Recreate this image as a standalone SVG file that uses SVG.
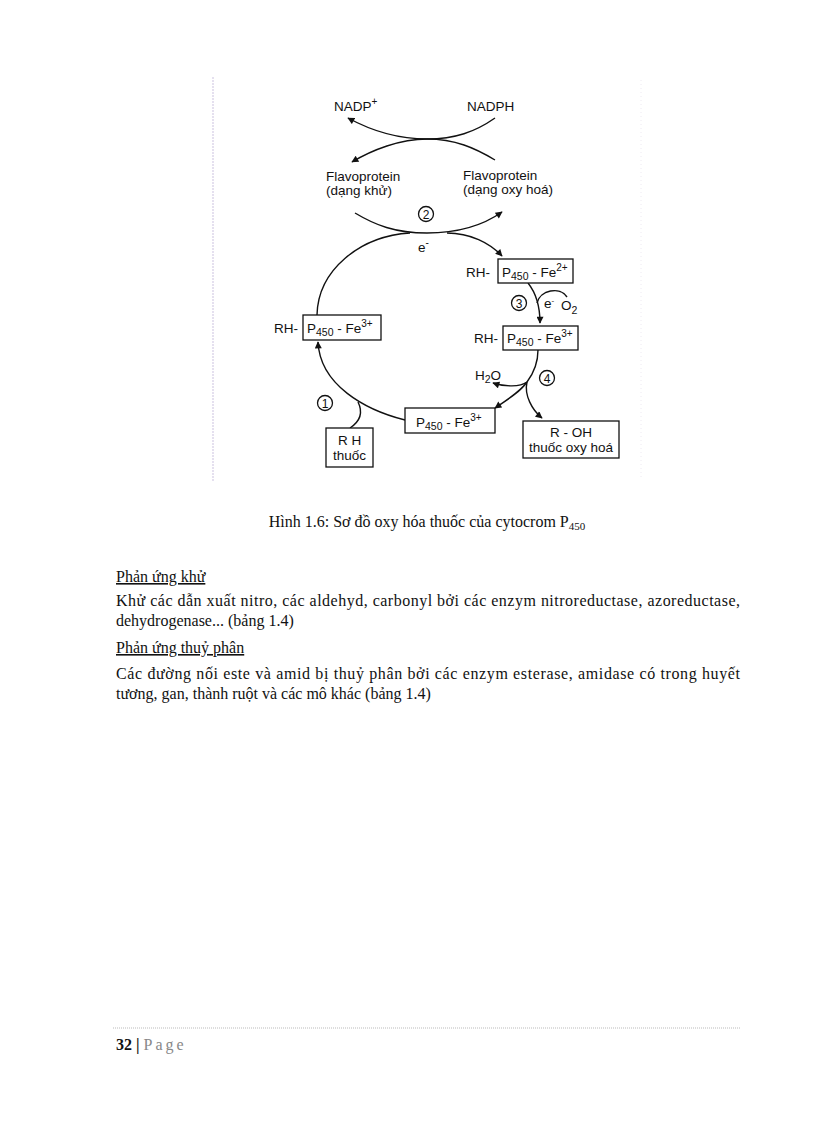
<svg xmlns="http://www.w3.org/2000/svg" width="816" height="1123" viewBox="0 0 816 1123">
<defs>
<marker id="ah" viewBox="0 0 10 10" refX="9" refY="5" markerWidth="8" markerHeight="7" markerUnits="userSpaceOnUse" orient="auto">
<path d="M0,0 L10,5 L0,10 Z" fill="#111"/>
</marker>
<style>
.d{font-family:"Liberation Sans",Arial,sans-serif;font-size:13.5px;fill:#111}
.n{font-family:"Liberation Sans",Arial,sans-serif;font-size:12px;fill:#111;text-anchor:middle}
.box{fill:#fff;stroke:#111;stroke-width:1.3}
.c{fill:none;stroke:#111;stroke-width:1.3}
.ln{fill:none;stroke:#111;stroke-width:1.4}
.ar{fill:none;stroke:#111;stroke-width:1.4;marker-end:url(#ah)}
.t{font-family:"Liberation Serif","Times New Roman",serif;font-size:16px;fill:#111}
</style>
</defs>
<rect width="816" height="1123" fill="#fff"/>
<line x1="213" y1="77" x2="213" y2="481" stroke="#ddd6ea" stroke-width="1.5" stroke-dasharray="2,1"/>
<line x1="641" y1="80" x2="641" y2="478" stroke="#eeeaf2" stroke-width="1" stroke-dasharray="1,3"/>

<g id="connectors">
<path class="ar" d="M495,118 C475,132 455,139 427,139 C395,139 370,130 348,118"/>
<path class="ar" d="M495,160 C475,148 455,139 427,139 C400,139 372,150 352,162"/>
<path class="ar" d="M355,213 C375,225 395,233 427,233 C460,233 485,224 502,212"/>
<path class="ln" d="M410,233 C360,236 318,270 317,315"/>
<path class="ar" d="M447,233 C470,233 490,243 502,256"/>
<path class="ar" d="M528,283 C536,293 540,305 540,323"/>
<path class="ln" d="M537,303 C540,290 560,286 567,297"/>
<path class="ln" d="M538,350 C538,362 533,374 527,382"/>
<path class="ar" d="M527,382 C520,387 505,387 493,383"/>
<path class="ar" d="M527,382 C520,392 507,400 495,408"/>
<path class="ar" d="M527,382 C524,395 532,410 542,418"/>
<path class="ar" d="M405,420 C365,410 320,385 318,342"/>
<path class="ln" d="M350,428 C362,420 362,410 358,402"/>
</g>

<g id="nadp"><text class="d" x="334" y="111">NADP<tspan font-size="10" dy="-6">+</tspan></text></g>
<g id="nadph"><text class="d" x="467" y="111">NADPH</text></g>
<g id="flavo-khu"><text class="d" x="326" y="181">Flavoprotein</text><text class="d" x="326" y="195">(dạng khử)</text></g>
<g id="flavo-oxy"><text class="d" x="463" y="180">Flavoprotein</text><text class="d" x="463" y="194">(dạng oxy hoá)</text></g>
<g id="step2"><circle class="c" cx="426" cy="214" r="7.5"/><text class="n" x="426" y="218.5">2</text></g>
<g id="electron1"><text class="d" x="418" y="252">e<tspan font-size="10" dy="-6">-</tspan></text></g>

<g id="fe2">
<text class="d" x="466" y="277">RH-</text>
<rect class="box" x="498" y="259" width="75" height="24"/>
<text class="d" x="502" y="277">P<tspan font-size="10.5" dy="3">450</tspan><tspan dy="-3"> - Fe</tspan><tspan font-size="10" dy="-6">2+</tspan></text>
</g>
<g id="step3"><circle class="c" cx="519" cy="303" r="7.5"/><text class="n" x="519" y="307.5">3</text></g>
<g id="e-o2"><text class="d" x="544" y="308" font-size="11.5">e<tspan font-size="8" dy="-5">-</tspan></text><text class="d" x="561" y="310">O<tspan font-size="10.5" dy="4">2</tspan></text></g>

<g id="fe3-right">
<text class="d" x="474" y="343">RH-</text>
<rect class="box" x="503" y="326" width="75" height="24"/>
<text class="d" x="507" y="343">P<tspan font-size="10.5" dy="3">450</tspan><tspan dy="-3"> - Fe</tspan><tspan font-size="10" dy="-6">3+</tspan></text>
</g>

<g id="fe3-left">
<text class="d" x="274" y="333">RH-</text>
<rect class="box" x="303" y="315" width="78" height="25"/>
<text class="d" x="307" y="333">P<tspan font-size="10.5" dy="3">450</tspan><tspan dy="-3"> - Fe</tspan><tspan font-size="10" dy="-6">3+</tspan></text>
</g>

<g id="h2o"><text class="d" x="475" y="380">H<tspan font-size="10.5" dy="3">2</tspan><tspan dy="-3">O</tspan></text></g>
<g id="step4"><circle class="c" cx="547" cy="378" r="7.5"/><text class="n" x="547" y="382.5">4</text></g>

<g id="roh">
<rect class="box" x="523" y="421" width="96" height="37"/>
<text class="d" x="571" y="437" text-anchor="middle">R - OH</text>
<text class="d" x="571" y="452" text-anchor="middle">thuốc oxy hoá</text>
</g>

<g id="fe3-bottom">
<rect class="box" x="405" y="408" width="90" height="25"/>
<text class="d" x="416" y="427">P<tspan font-size="10.5" dy="3">450</tspan><tspan dy="-3"> - Fe</tspan><tspan font-size="10" dy="-6">3+</tspan></text>
</g>

<g id="step1"><circle class="c" cx="325" cy="403" r="7.5"/><text class="n" x="325" y="407.5">1</text></g>

<g id="rh-drug">
<rect class="box" x="326" y="428" width="47" height="39"/>
<text class="d" x="349.5" y="445" text-anchor="middle">R H</text>
<text class="d" x="349.5" y="460" text-anchor="middle">thuốc</text>
</g>

<g id="caption">
<text class="t" x="427" y="527" text-anchor="middle">Hình 1.6: Sơ đồ oxy hóa thuốc của cytocrom P<tspan font-size="11" dy="3">450</tspan></text>
</g>

<g id="body">
<text class="t" x="116" y="582" text-decoration="underline">Phản ứng khử</text>
<text class="t" x="116" y="606" textLength="624" lengthAdjust="spacing">Khử các dẫn xuất nitro, các aldehyd, carbonyl bởi các enzym nitroreductase, azoreductase,</text>
<text class="t" x="116" y="626">dehydrogenase... (bảng 1.4)</text>
<text class="t" x="116" y="653" text-decoration="underline">Phản ứng thuỷ phân</text>
<text class="t" x="116" y="679" textLength="624" lengthAdjust="spacing">Các đường nối este và amid bị thuỷ phân bởi các enzym esterase, amidase có trong huyết</text>
<text class="t" x="116" y="699">tương, gan, thành ruột và các mô khác (bảng 1.4)</text>
</g>

<g id="footer">
<line x1="113" y1="1028" x2="741" y2="1028" stroke="#bbb" stroke-width="1" stroke-dasharray="1,1"/>
<text class="t" x="116" y="1050"><tspan font-weight="bold">32</tspan><tspan font-weight="bold"> | </tspan><tspan fill="#888" letter-spacing="3">Page</tspan></text>
</g>
</svg>
